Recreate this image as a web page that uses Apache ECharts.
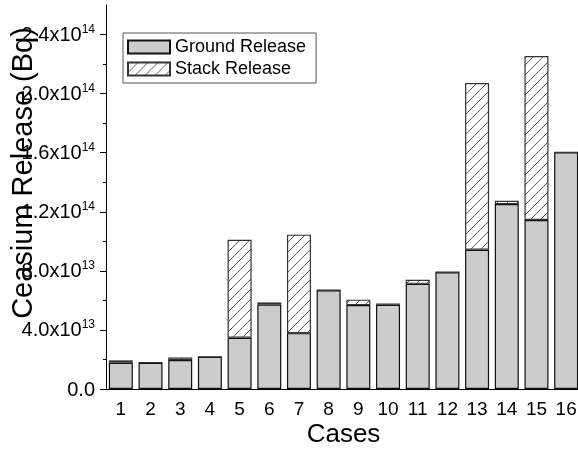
<!DOCTYPE html>
<html><head><meta charset="utf-8">
<script src="https://cdn.jsdelivr.net/npm/echarts@6/dist/echarts.min.js"></script>
<style>html,body{margin:0;padding:0;background:#fff}#c{width:578px;height:453px}</style>
</head><body><div id="c"></div>
<script>
// ---- data ----
const cases = ['1','2','3','4','5','6','7','8','9','10','11','12','13','14','15','16'];
const groundRelease = [1.78e13, 1.78e13, 1.96e13, 2.18e13, 3.47e13, 5.72e13, 3.78e13, 6.69e13,
                       5.68e13, 5.70e13, 7.12e13, 7.91e13, 9.43e13, 1.252e14, 1.144e14, 1.603e14];
const stackRelease  = [0.16e13, 0.03e13, 0.18e13, 0, 6.64e13, 0.14e13, 6.67e13, 0,
                       0.37e13, 0.09e13, 0.28e13, 0, 1.129e14, 0.23e13, 1.111e14, 0];
const yTicks = [0, 4e13, 8e13, 1.2e14, 1.6e14, 2.0e14, 2.4e14];
const yMinorTicks = [2e13, 6e13, 1.0e14, 1.4e14, 1.8e14, 2.2e14];
const yMax = 2.6e14;

const FONT = '"Liberation Sans", Arial, sans-serif';

function hatch() {
  const s = 10;
  const c = document.createElement('canvas');
  c.width = s; c.height = s;
  const g = c.getContext('2d');
  g.fillStyle = '#fff'; g.fillRect(0, 0, s, s);
  g.strokeStyle = '#333'; g.lineWidth = 0.8;
  g.beginPath();
  g.moveTo(0, s); g.lineTo(s, 0);
  g.moveTo(-1, 1); g.lineTo(1, -1);
  g.moveTo(s - 1, s + 1); g.lineTo(s + 1, s - 1);
  g.stroke();
  return c;
}

function yFmt(v) {
  if (Math.abs(v) < 1) return '{a|0.0}';
  const e = Math.floor(Math.log10(v) + 1e-9);
  const m = v / Math.pow(10, e);
  return '{a|' + m.toFixed(1) + 'x10}{s|' + e + '}';
}

const chart = echarts.init(document.getElementById('c'), null, {renderer: 'canvas'});
chart.setOption({
  animation: false,
  backgroundColor: '#fff',
  textStyle: {fontFamily: FONT, color: '#000'},
  grid: {left: 106, width: 475, top: 5, bottom: 64, containLabel: false, outerBoundsMode: 'none'},
  legend: {
    orient: 'vertical', left: 123, top: 33,
    data: [{name: 'Ground Release', icon: 'rect'}, {name: 'Stack Release', icon: 'rect'}],
    itemWidth: 42, itemHeight: 13, itemGap: 4,
    padding: [5, 10, 5, 4],
    borderColor: '#555', borderWidth: 1,
    textStyle: {fontSize: 18, color: '#000', fontFamily: FONT}
  },
  xAxis: [
    {
      type: 'category', data: cases, position: 'bottom',
      axisLine: {lineStyle: {color: '#000', width: 1}},
      axisTick: {alignWithLabel: true, length: 7, lineStyle: {color: '#000'}},
      axisLabel: {fontSize: 19, color: '#000', margin: 11, fontFamily: FONT, interval: 0},
      name: 'Cases', nameLocation: 'middle', nameGap: 33, nameMoveOverlap: false,
      nameTextStyle: {fontSize: 26, color: '#000', fontFamily: FONT}
    },
    {
      type: 'category', data: cases, position: 'bottom',
      axisLine: {show: false},
      axisTick: {length: 4, lineStyle: {color: '#000'}},
      axisLabel: {show: false}
    }
  ],
  yAxis: [
    {
      type: 'value', min: 0, max: yMax, position: 'left',
      axisLine: {show: true, lineStyle: {color: '#000', width: 1}},
      axisTick: {show: true, length: 6, customValues: yTicks, lineStyle: {color: '#000'}},
      axisLabel: {
        customValues: yTicks, formatter: yFmt, margin: 11,
        rich: {
          a: {fontSize: 20, lineHeight: 22, color: '#000', fontFamily: FONT, verticalAlign: 'bottom'},
          s: {fontSize: 12, lineHeight: 12, color: '#000', fontFamily: FONT, verticalAlign: 'top'}
        }
      },
      splitLine: {show: false},
      name: 'Ceasium Release (Bq)', nameLocation: 'middle', nameRotate: 90, nameGap: 68,
      nameMoveOverlap: false,
      nameTextStyle: {fontSize: 29, color: '#000', fontFamily: FONT, padding: [0, 0, 0, 48]}
    },
    {
      type: 'value', min: 0, max: yMax, position: 'left',
      axisLine: {show: false},
      axisTick: {show: true, length: 3, customValues: yMinorTicks, lineStyle: {color: '#000'}},
      axisLabel: {show: false},
      splitLine: {show: false}
    }
  ],
  series: [
    {
      name: 'Ground Release', type: 'bar', stack: 'total', data: groundRelease,
      barWidth: 24, xAxisIndex: 0, yAxisIndex: 0,
      itemStyle: {color: '#cccccc', borderColor: '#111', borderWidth: 1.2}
    },
    {
      name: 'Stack Release', type: 'bar', stack: 'total', data: stackRelease,
      barWidth: 24, xAxisIndex: 0, yAxisIndex: 0,
      itemStyle: {color: {image: hatch(), repeat: 'repeat'}, borderColor: '#333', borderWidth: 1.2}
    }
  ]
});
</script>
</body></html>
